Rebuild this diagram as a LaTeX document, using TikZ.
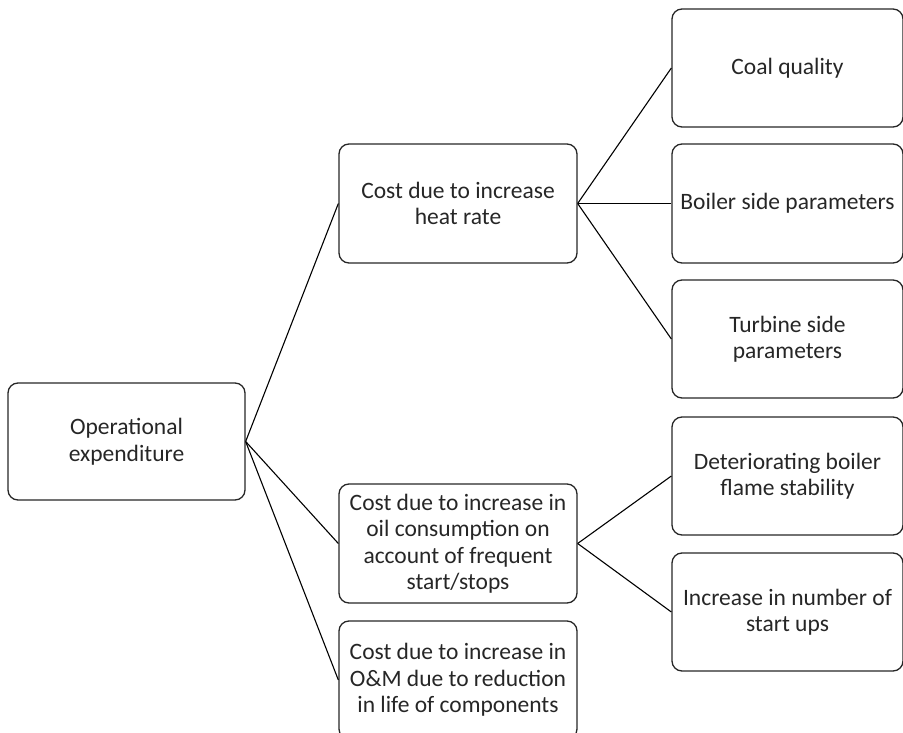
\documentclass[tikz,border=0pt]{standalone}
\usepackage{fontspec}
\setmainfont{Carlito}
\begin{document}
\begin{tikzpicture}[x=1pt,y=-1pt,
  box/.style={draw=black!85, line width=1.3pt, rounded corners=10pt, align=center,
    inner sep=0pt, font=\fontsize{23.5}{26.5}\selectfont, text=black!85},
  link/.style={draw=black, line width=1.1pt}]
\useasboundingbox (0,0) rectangle (903,733);
\node[box, minimum width=237pt, minimum height=117pt] (root) at (126.5,441.5) {Operational\\expenditure};
\node[box, minimum width=238pt, minimum height=119pt] (heat) at (458,203.5) {Cost due to increase\\heat rate};
\node[box, minimum width=238pt, minimum height=119pt] (oil) at (458,543.5) {Cost due to increase in\\oil consumption on\\account of frequent\\start/stops};
\node[box, minimum width=238pt, minimum height=118pt] (om) at (458,680) {Cost due to increase in\\O\&M due to reduction\\in life of components};
\node[box, minimum width=231pt, minimum height=118pt] (coal) at (787.5,68) {Coal quality};
\node[box, minimum width=231pt, minimum height=119pt] (boil) at (787.5,203.5) {Boiler side parameters};
\node[box, minimum width=231pt, minimum height=118pt] (turb) at (787.5,339) {Turbine side\\parameters};
\node[box, minimum width=231pt, minimum height=118pt] (det) at (787.5,476) {Deteriorating boiler\\flame stability};
\node[box, minimum width=231pt, minimum height=118pt] (inc) at (787.5,612) {Increase in number of\\start ups};
\draw[link] (root.east) -- (heat.west);
\draw[link] (root.east) -- (oil.west);
\draw[link] (root.east) -- (om.west);
\draw[link] (heat.east) -- (coal.west);
\draw[link] (heat.east) -- (boil.west);
\draw[link] (heat.east) -- (turb.west);
\draw[link] (oil.east) -- (det.west);
\draw[link] (oil.east) -- (inc.west);
\end{tikzpicture}
\end{document}
